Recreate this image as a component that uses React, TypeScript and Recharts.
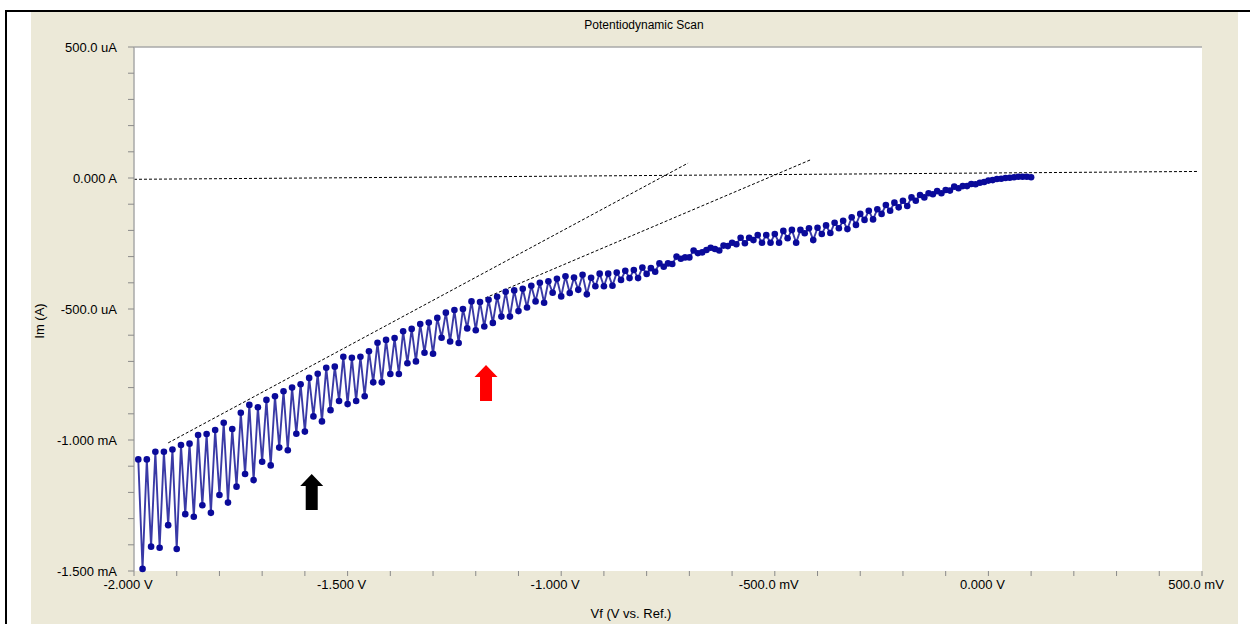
import {
  LineChart,
  Line,
  XAxis,
  YAxis,
  CartesianGrid,
  ReferenceLine,
  ReferenceDot,
} from "recharts";

// scan settings (mV): first point and step of the potentiodynamic sweep
const SCAN_START_MV = -1990;
const SCAN_STEP_MV = 10;

const CURRENT_UA_1 = [
  -1074, -1492, -1074, -1407, -1045, -1411, -1045, -1325, -1036, -1416,
  -1019, -1283, -1014, -1293, -981, -1249, -977, -1278, -962, -1210,
  -934, -1239, -958, -1178, -896, -1130, -866, -1153, -875, -1083,
  -847, -1097, -833, -1029, -814, -1039, -800, -976, -787, -968,
  -763, -910, -747, -929, -724, -886, -720, -851, -682, -863,
];

const CURRENT_UA_2 = [
  -686, -851, -682, -833, -661, -780, -629, -780, -618, -748,
  -611, -748, -585, -707, -576, -700, -557, -667, -552, -671,
  -534, -610, -514, -624, -504, -630, -500, -574, -471, -581,
  -473, -567, -465, -553, -453, -529, -434, -529, -429, -508,
  -423, -494, -411, -471, -400, -476, -394, -438, -385, -452,
];

const CURRENT_UA_3 = [
  -375, -439, -380, -427, -369, -444, -381, -413, -365, -413,
  -365, -411, -361, -389, -354, -382, -351, -382, -342, -366,
  -344, -358, -326, -339, -326, -328, -300, -308, -303, -303,
  -277, -287, -284, -275, -266, -271, -277, -258, -260, -247,
  -253, -228, -249, -228, -237, -218, -247, -218, -247, -214,
];

const CURRENT_UA_4 = [
  -247, -202, -230, -198, -247, -198, -211, -192, -237, -190,
  -214, -181, -210, -171, -192, -163, -195, -150, -179, -137,
  -160, -125, -158, -119, -137, -103, -125, -94, -112, -87,
  -107, -74, -87, -65, -74, -58, -62, -50, -58, -46,
  -48, -33, -39, -31, -31, -23, -24, -18, -15, -10,
  -8, -4, -3, 0, 1, 3, 5, 5, 5, 3,
];

const CURRENT_UA = [...CURRENT_UA_1, ...CURRENT_UA_2, ...CURRENT_UA_3, ...CURRENT_UA_4];

const scanData = CURRENT_UA.map((im, i) => ({ vf: SCAN_START_MV + i * SCAN_STEP_MV, im }));

// axes (mV / uA)
const X_TICKS = [
  -2000, -1900, -1800, -1700, -1600, -1500, -1400, -1300, -1200, -1100, -1000,
  -900, -800, -700, -600, -500, -400, -300, -200, -100, 0, 100, 200, 300, 400, 500,
];
const X_MAJOR = [-2000, -1500, -1000, -500, 0, 500];
const X_MAJOR_LABELS = ["-2.000 V", "-1.500 V", "-1.000 V", "-500.0 mV", "0.000 V", "500.0 mV"];

const Y_TICKS = [
  -1500, -1400, -1300, -1200, -1100, -1000, -900, -800, -700, -600, -500,
  -400, -300, -200, -100, 0, 100, 200, 300, 400, 500,
];
const Y_MAJOR = [-1500, -1000, -500, 0, 500];
const Y_MAJOR_LABELS = ["-1.500 mA", "-1.000 mA", "-500.0 uA", "0.000 A", "500.0 uA"];

// dashed fit lines: [vf mV, im uA] end points
const FIT_LINES = [
  [[-2000, -5], [493, 25]],
  [[-1920, -1011], [-703, 57]],
  [[-1178, -458], [-417, 69]],
];

// annotation arrows (tip position)
const ARROWS = [
  { vf: -1584, im: -1130, color: "#000000" },
  { vf: -1176, im: -714, color: "#ff0000" },
];

const FONT = "'Liberation Sans', Arial, sans-serif";

function Arrow(props: any) {
  const { cx, cy, color } = props;
  const hw = 11.5;
  const sw = 6;
  const hh = 12;
  const len = 36;
  const pts = [
    [cx, cy],
    [cx + hw, cy + hh],
    [cx + sw, cy + hh],
    [cx + sw, cy + len],
    [cx - sw, cy + len],
    [cx - sw, cy + hh],
    [cx - hw, cy + hh],
  ]
    .map((p) => p.join(","))
    .join(" ");
  return <polygon points={pts} fill={color} />;
}

function ScanDot(props: any) {
  const { cx, cy, index } = props;
  if (cx == null || cy == null) return null;
  return <circle key={index} cx={cx} cy={cy} r={3.3} fill="#0a0a9a" />;
}

export default function App() {
  const fmtX = (v: number) => {
    const k = X_MAJOR.indexOf(v);
    return k >= 0 ? X_MAJOR_LABELS[k] : "";
  };
  const fmtY = (v: number) => {
    const k = Y_MAJOR.indexOf(v);
    return k >= 0 ? Y_MAJOR_LABELS[k] : "";
  };

  return (
    <div style={{ position: "absolute", left: 0, top: 0, width: 1250, height: 624, background: "#fff", overflow: "hidden", fontFamily: FONT }}>
      {/* frame */}
      <div style={{ position: "absolute", left: 5, top: 10, width: 1260, height: 2, background: "#000" }} />
      <div style={{ position: "absolute", left: 5, top: 10, width: 2, height: 620, background: "#000" }} />
      <div style={{ position: "absolute", left: 31, top: 12, width: 1207, height: 612, background: "#ece9d8" }} />

      <div style={{ position: "absolute", left: 544, top: 18, width: 200, textAlign: "center", fontSize: 12, color: "#000" }}>
        Potentiodynamic Scan
      </div>
      <div style={{ position: "absolute", left: 531, top: 606, width: 200, textAlign: "center", fontSize: 13, color: "#000" }}>
        Vf (V vs. Ref.)
      </div>
      <div
        style={{
          position: "absolute",
          left: 39,
          top: 321,
          transform: "translate(-50%, -50%) rotate(-90deg)",
          fontSize: 13,
          color: "#000",
          whiteSpace: "nowrap",
        }}
      >
        Im (A)
      </div>

      <div style={{ position: "absolute", left: 0, top: 0 }}>
        <LineChart width={1250} height={624} data={scanData} margin={{ top: 47, right: 48, bottom: 23, left: 0 }}>
          <CartesianGrid horizontal={false} vertical={false} fill="#ffffff" />
          <XAxis
            type="number"
            dataKey="vf"
            domain={[-2000, 500]}
            ticks={X_TICKS}
            interval={0}
            tickFormatter={fmtX}
            height={30}
            axisLine={false}
            tickSize={5}
            tickMargin={4}
            tickLine={{ stroke: "#8a8a8a" }}
            tick={{ fontSize: 13, fill: "#000", fontFamily: FONT, dx: -6 }}
          />
          <YAxis
            type="number"
            dataKey="im"
            domain={[-1500, 500]}
            ticks={Y_TICKS}
            interval={0}
            tickFormatter={fmtY}
            width={134}
            axisLine={{ stroke: "#a8a8a8", strokeWidth: 1.5 }}
            tickSize={6}
            tickMargin={11}
            tickLine={{ stroke: "#8a8a8a" }}
            tick={{ fontSize: 13, fill: "#000", fontFamily: FONT }}
          />
          <ReferenceLine y={500} stroke="#a8a8a8" strokeWidth={1.5} />
          {FIT_LINES.map((seg, k) => (
            <ReferenceLine
              key={k}
              segment={[
                { x: seg[0][0], y: seg[0][1] },
                { x: seg[1][0], y: seg[1][1] },
              ]}
              stroke="#000"
              strokeWidth={1}
              strokeDasharray="3 2"
              ifOverflow="visible"
            />
          ))}
          <Line
            type="linear"
            dataKey="im"
            stroke="#3a3aa6"
            strokeWidth={1.9}
            dot={<ScanDot />}
            activeDot={false}
            isAnimationActive={false}
          />
          {ARROWS.map((a, k) => (
            <ReferenceDot
              key={k}
              x={a.vf}
              y={a.im}
              r={1}
              ifOverflow="visible"
              shape={(p: any) => <Arrow cx={p.cx} cy={p.cy} color={a.color} />}
            />
          ))}
        </LineChart>
      </div>
    </div>
  );
}
